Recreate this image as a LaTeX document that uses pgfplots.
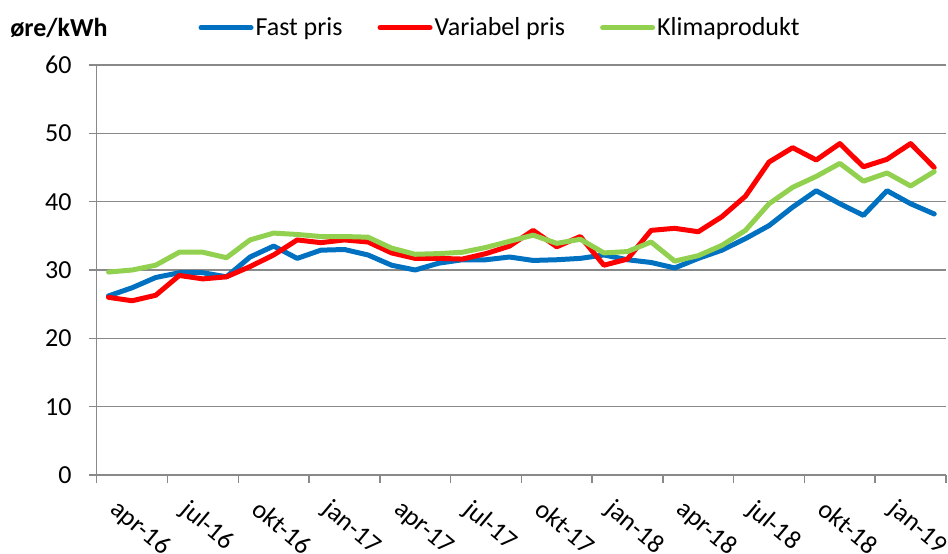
\documentclass[border=0pt]{standalone}
\usepackage{pgfplots}
\pgfplotsset{compat=1.18}
\usepackage{fontspec}
\setmainfont{Carlito}
\definecolor{cblue}{HTML}{0070C0}
\definecolor{cred}{HTML}{FF0000}
\definecolor{cgreen}{HTML}{92D050}
\definecolor{cgray}{HTML}{898989}
\pgfplotstableread{
i fast var klima
0 26.2 26.0 29.7
1 27.4 25.5 30.0
2 28.9 26.3 30.7
3 29.6 29.2 32.6
4 29.6 28.7 32.6
5 29.0 29.0 31.8
6 31.9 30.5 34.4
7 33.5 32.2 35.4
8 31.7 34.4 35.2
9 32.9 34.0 34.9
10 33.0 34.4 34.9
11 32.2 34.1 34.8
12 30.7 32.5 33.2
13 30.0 31.7 32.3
14 31.0 31.7 32.4
15 31.5 31.6 32.6
16 31.5 32.4 33.3
17 31.9 33.5 34.2
18 31.4 35.8 35.1
19 31.5 33.4 33.9
20 31.7 34.9 34.5
21 32.2 30.7 32.5
22 31.5 31.6 32.7
23 31.1 35.8 34.1
24 30.3 36.1 31.3
25 31.7 35.6 32.1
26 32.9 37.8 33.6
27 34.6 40.8 35.8
28 36.5 45.8 39.7
29 39.2 47.9 42.1
30 41.6 46.1 43.7
31 39.7 48.5 45.6
32 38.0 45.1 43.0
33 41.6 46.2 44.2
34 39.7 48.5 42.3
35 38.2 45.0 44.4
}\datatable
\begin{document}
\begin{tikzpicture}
\useasboundingbox (-96.7pt,-79pt) rectangle (851.3pt,475pt);
\begin{axis}[
  at={(0pt,0pt)}, anchor=south west,
  scale only axis, width=849.3pt, height=410pt,
  xmin=-0.5, xmax=35.5, ymin=0, ymax=60,
  axis x line=bottom, axis y line=left,
  axis line style={-, draw=cgray, line width=1.5pt},
  ytick={0,10,...,60},
  xtick={-0.5,2.5,...,35.5},
  xticklabels={apr-16,jul-16,okt-16,jan-17,apr-17,jul-17,okt-17,jan-18,apr-18,jul-18,okt-18,jan-19,},
  tick align=outside,
  major tick length=8pt,
  tick style={draw=cgray, line width=1.5pt},
  ymajorgrids,
  major grid style={draw=cgray, line width=1.5pt},
  font=\fontsize{26}{31}\selectfont,
  /pgf/number format/assume math mode=true,
  yticklabel style={anchor=east, inner sep=0pt, xshift=-17pt},
  xticklabel style={xshift=24pt, yshift=-15pt, rotate=-40, anchor=north west, inner sep=0pt},
  legend columns=3,
  legend style={draw=none, fill=none, at={(0.4749,1.091)}, anchor=center,
    font=\fontsize{26}{31}\selectfont,
    nodes={inner xsep=2pt, inner ysep=0pt},
    /tikz/every even column/.append style={column sep=33pt}},
  legend image code/.code={\draw[#1, line width=5pt, line cap=round] (2.5pt,0pt) -- (52.5pt,0pt);},
  every axis plot/.append style={line width=5pt, line join=round, line cap=round, mark=none},
]
\addplot[cblue] table[x=i, y=fast] {\datatable};
\addlegendentry{Fast pris}
\addplot[cred] table[x=i, y=var] {\datatable};
\addlegendentry{Variabel pris}
\addplot[cgreen] table[x=i, y=klima] {\datatable};
\addlegendentry{Klimaprodukt}
\end{axis}
\node[font=\fontsize{26}{31}\selectfont\bfseries] at (-37.7pt,447.3pt) {øre/kWh};
\end{tikzpicture}
\end{document}
